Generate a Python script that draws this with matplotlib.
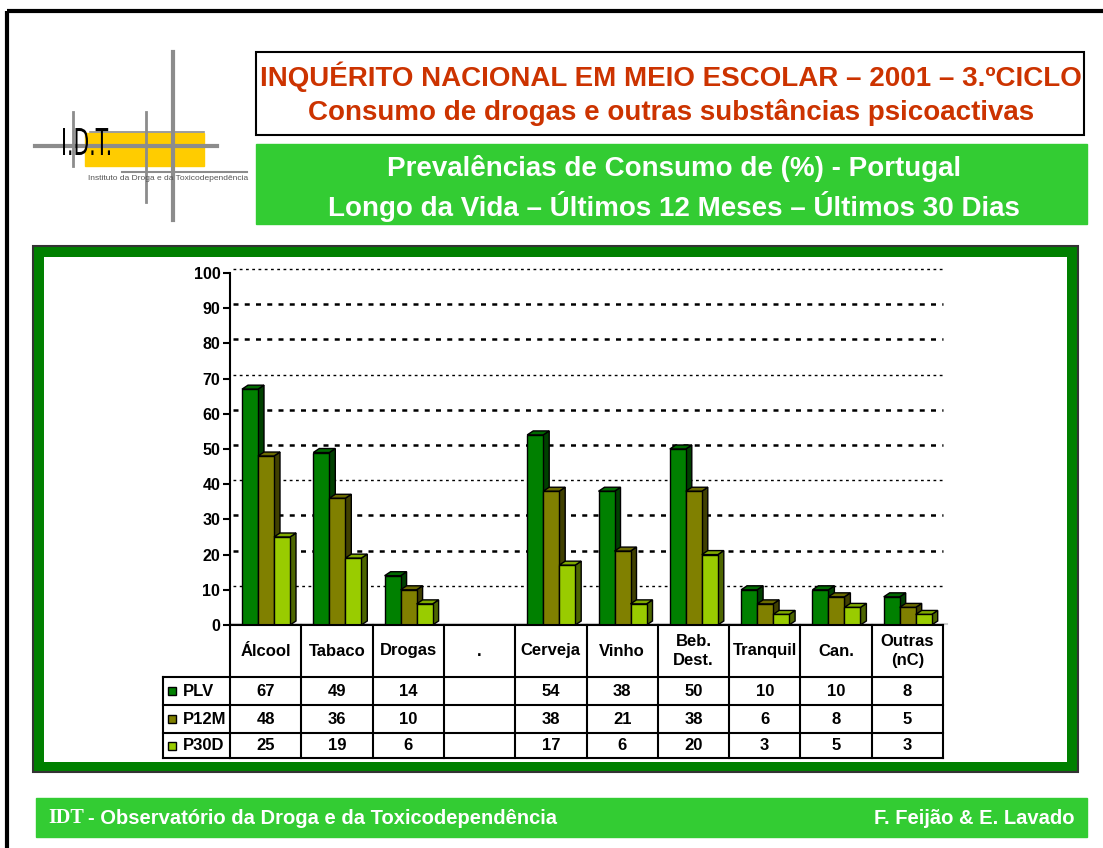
"""
IDT 2001 - prevalence chart (3.º ciclo), bars with a data table underneath
"""
import matplotlib
matplotlib.use('Agg')
import matplotlib.pyplot as plt
from matplotlib.patches import Rectangle, Polygon, PathPatch
from matplotlib.lines import Line2D
from matplotlib.textpath import TextPath
from matplotlib.font_manager import FontProperties
from matplotlib.transforms import Affine2D

plt.rcParams['font.family'] = ['Liberation Sans', 'DejaVu Sans']

# Data
categories = ['Álcool', 'Tabaco', 'Drogas', '.', 'Cerveja', 'Vinho',
              'Beb.\nDest.', 'Tranquil', 'Can.', 'Outras\n(nC)']
series = ['PLV', 'P12M', 'P30D']
plv = [67, 49, 14, None, 54, 38, 50, 10, 10, 8]
p12m = [48, 36, 10, None, 38, 21, 38, 6, 8, 5]
p30d = [25, 19, 6, None, 17, 6, 20, 3, 5, 3]
yticks = list(range(0, 101, 10))

front = ['#008000', '#808000', '#99CC00']
side = ['#004000', '#404000', '#4D6600']
top = ['#006A00', '#6A6A00', '#80AA00']

W, H = 1103, 848
fig = plt.figure(figsize=(W / 100, H / 100), dpi=100)

# background layer in pixel coordinates
bg = fig.add_axes([0, 0, 1, 1], zorder=0)
bg.set_xlim(0, W)
bg.set_ylim(H, 0)
bg.axis('off')

# outer frame (top + left)
bg.plot([7, W], [11, 11], color='black', lw=3, solid_capstyle='butt')
bg.plot([7, 7], [11, H], color='black', lw=3, solid_capstyle='butt')

# logo
bg.add_patch(Rectangle((85, 133), 119, 33, color='#FFCC00', zorder=1))
grey = '#8C8C8C'
bg.plot([173, 173], [52, 220], color=grey, lw=3, zorder=2)
bg.plot([146, 146], [112, 202], color=grey, lw=2, zorder=2)
bg.plot([73, 73], [112, 166], color=grey, lw=2, zorder=2)
bg.plot([35, 217], [146, 146], color=grey, lw=3, zorder=2)
bg.plot([90, 204], [132, 132], color=grey, lw=1.2, zorder=2)
bg.plot([122, 247], [172, 172], color=grey, lw=1.5, zorder=2)
# condensed "I.D.T." lettering
tp = TextPath((0, 0), 'I.D.T.', size=37, prop=FontProperties(family='DejaVu Sans'))
ext = tp.get_extents()
sx = 47 / ext.width
logo_tf = Affine2D().translate(-ext.x0, 0).scale(sx, -1).translate(63, 155) + bg.transData
bg.add_patch(PathPatch(tp, facecolor='black', edgecolor='none', transform=logo_tf, zorder=3))
bg.text(88, 178, 'Instituto da Droga e da Toxicodependência', fontsize=6,
        color='#555555', va='center', ha='left', zorder=3)

# title box
bg.add_patch(Rectangle((256, 52), 828, 83, facecolor='white', edgecolor='black', lw=1.5))
bg.text(671, 77, 'INQUÉRITO NACIONAL EM MEIO ESCOLAR – 2001 – 3.ºCICLO',
        fontsize=20, fontweight='bold', color='#CC3300', ha='center', va='center')
bg.text(671, 112, 'Consumo de drogas e outras substâncias psicoactivas',
        fontsize=20, fontweight='bold', color='#CC3300', ha='center', va='center')

# green subtitle box
bg.add_patch(Rectangle((256, 144), 831, 80, color='#33CC33'))
bg.text(674, 168, 'Prevalências de Consumo de (%) - Portugal',
        fontsize=20, fontweight='bold', color='white', ha='center', va='center')
bg.text(674, 206, 'Longo da Vida – Últimos 12 Meses – Últimos 30 Dias',
        fontsize=20, fontweight='bold', color='white', ha='center', va='center')

# chart frame
bg.add_patch(Rectangle((33, 246), 1045, 526, facecolor='#008000', edgecolor='#333333', lw=1.5))
bg.add_patch(Rectangle((44, 257), 1023, 505, facecolor='white', edgecolor='none'))

# footer
bg.add_patch(Rectangle((36, 798), 1051, 39, color='#33CC33'))
bg.text(48, 818, 'IDT', fontsize=14.5, fontweight='bold', color='white',
        family='Liberation Serif', ha='left', va='center')
bg.text(88, 818, '- Observatório da Droga e da Toxicodependência', fontsize=14.5,
        fontweight='bold', color='white', ha='left', va='center')
bg.text(1075, 818, 'F. Feijão & E. Lavado', fontsize=14.5, fontweight='bold',
        color='white', ha='right', va='center')

# chart axes: x 230..943 px, y 273..625 px
ax = fig.add_axes([230 / W, (H - 625) / H, 713 / W, 352 / H], zorder=2)
ax.set_facecolor('none')
ax.set_xlim(0, len(categories))
ax.set_ylim(0, 100)
for s in ['top', 'right', 'bottom']:
    ax.spines[s].set_visible(False)
ax.spines['left'].set_linewidth(1.5)
ax.set_xticks([])
ax.set_yticks(yticks)
ax.set_yticklabels([str(t) for t in yticks], fontsize=11.5, fontweight='bold')
ax.tick_params(axis='y', length=5, width=1.5, pad=2)

col_w = 713 / len(categories)        # px per category
bar_w = 16 / col_w                   # data units
bar_off = 12 / col_w
dx = 6 / col_w
dy = 4 / 3.52

# gridlines on the back wall
for t in yticks[1:]:
    lw = 1.0 if t in (10, 40, 70, 100) else 1.8
    ax.plot([0.04, len(categories)], [t + dy, t + dy], color='black', lw=lw,
            linestyle=(0, (2, 2.5)), zorder=1, clip_on=False)
ax.plot([0.02, len(categories) + 0.05], [0.4, 0.4], color='#CCCCCC', lw=1.5, zorder=1,
        clip_on=False)

# 3D-looking bars
values = [plv, p12m, p30d]
for i in range(len(categories)):
    for j, vals in enumerate(values):
        v = vals[i]
        if v is None:
            continue
        x0 = i + bar_off + j * bar_w
        z = 3 + j
        ax.add_patch(Polygon([(x0 + bar_w, 0), (x0 + bar_w + dx, dy), (x0 + bar_w + dx, v + dy),
                              (x0 + bar_w, v)], closed=True, facecolor=side[j],
                             edgecolor='black', lw=1, zorder=z))
        ax.add_patch(Polygon([(x0, v), (x0 + dx, v + dy), (x0 + bar_w + dx, v + dy),
                              (x0 + bar_w, v)], closed=True, facecolor=top[j],
                             edgecolor='black', lw=1, zorder=z))
        ax.add_patch(Rectangle((x0, 0), bar_w, v, facecolor=front[j],
                               edgecolor='black', lw=1, zorder=z))

# data table under the chart (shares the x scale)
tb = fig.add_axes([230 / W, (H - 758) / H, 713 / W, 133 / H], sharex=ax, zorder=2)
tb.set_facecolor('none')
tb.set_ylim(133, 0)
tb.axis('off')
rows = [0, 52, 80, 108, 133]
n = len(categories)
lk = dict(color='black', lw=1.5, clip_on=False)
for r in rows:
    tb.add_line(Line2D([0, n], [r, r], **lk))
for r in rows[1:]:
    tb.add_line(Line2D([-0.94, 0], [r, r], **lk))
for c in range(n + 1):
    tb.add_line(Line2D([c, c], [0, 133], **lk))
tb.add_line(Line2D([-0.94, -0.94], [52, 133], **lk))

for i, cat in enumerate(categories):
    tb.text(i + 0.5, 26, cat, ha='center', va='center', fontsize=12,
            fontweight='bold', linespacing=1.35)
    for k, vals in enumerate(values):
        v = vals[i]
        if v is None:
            continue
        yc = (rows[k + 1] + rows[k + 2]) / 2
        tb.text(i + 0.5, yc, str(v), ha='center', va='center', fontsize=12,
                fontweight='bold')

for k, name in enumerate(series):
    yc = (rows[k + 1] + rows[k + 2]) / 2
    tb.add_patch(Rectangle((-0.87, yc - 4), 8 / col_w, 8, facecolor=front[k],
                           edgecolor='black', lw=1, clip_on=False))
    tb.text(-0.66, yc, name, ha='left', va='center', fontsize=12, fontweight='bold')

fig.savefig('out.png', dpi=100)
